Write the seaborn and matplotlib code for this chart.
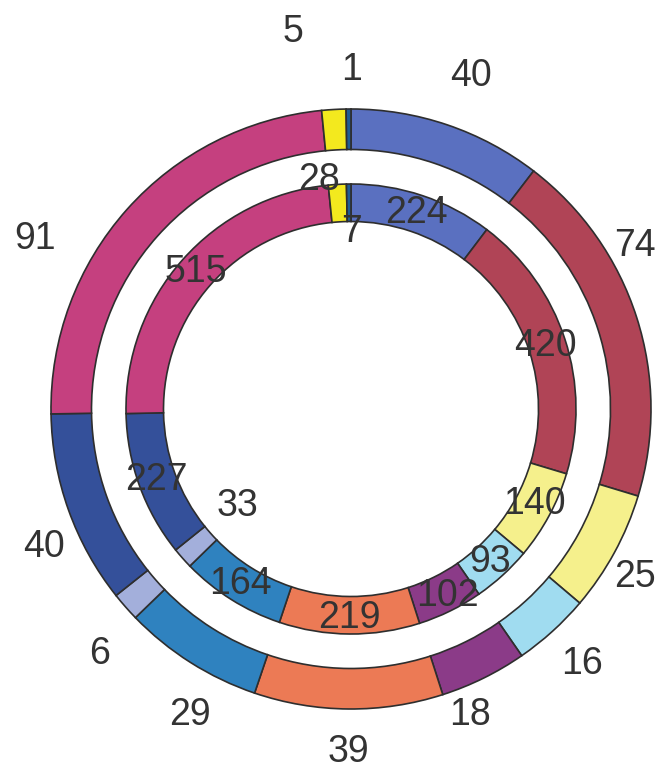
import numpy as np
import matplotlib
matplotlib.use("Agg")
import matplotlib.pyplot as plt
import seaborn as sns

# segments, clockwise from 12 o'clock
outer_values = [40, 74, 25, 16, 18, 39, 29, 6, 40, 91, 5, 1]
inner_values = [224, 420, 140, 93, 102, 219, 164, 33, 227, 515, 28, 7]
colors = ["#5a70c0", "#b04456", "#f5f08c", "#a0dcf0", "#8b3b88", "#ec7a55",
          "#2f82bf", "#a3afdb", "#34509a", "#c5407f", "#f3e91e", "#1f5c94"]

# label placement tweaks (radius, angle nudge in degrees clockwise)
outer_label_r = [1.18, 1.09, 1.10, 1.145, 1.095, 1.143, 1.153, 1.17, 1.12, 1.195, 1.27, 1.13]
outer_label_nudge = [1, -12, 2, 0, 5, 0, -4.5, -3, -4.5, -13.5, -5.5, 0.5]
inner_label_r = [0.69, 0.68, 0.69, 0.69, 0.70, 0.697, 0.69, 0.50, 0.69, 0.69, 0.77, 0.59]
inner_label_nudge = [0, 0, -1, 0, -1, 0, 0, 1, 0, 0, -4.6, 0.6]

sns.set_style("white")
plt.rcParams["font.family"] = ["Liberation Sans", "DejaVu Sans"]

fig = plt.figure(figsize=(6.68, 7.74), dpi=100)
ax = fig.add_axes([0, 0, 1, 1])

edge = dict(edgecolor="#2e2e2e", linewidth=1.2)
outer_wedges, _ = ax.pie(outer_values, radius=1.0, colors=colors, startangle=90,
                         counterclock=False, wedgeprops=dict(width=0.135, **edge))
inner_wedges, _ = ax.pie(inner_values, radius=0.75, colors=colors, startangle=90,
                         counterclock=False, wedgeprops=dict(width=0.125, **edge))


def put_labels(wedges, values, radii, nudges):
    for w, v, r, n in zip(wedges, values, radii, nudges):
        mid = (w.theta1 + w.theta2) / 2.0
        compass = np.deg2rad(90 - mid + n)
        ax.text(r * np.sin(compass), r * np.cos(compass), str(v),
                ha="center", va="center", fontsize=27, color="#333333")


put_labels(outer_wedges, outer_values, outer_label_r, outer_label_nudge)
put_labels(inner_wedges, inner_values, inner_label_r, inner_label_nudge)

ax.set_xlim(-351 / 300, (668 - 351) / 300)
ax.set_ylim(-(774 - 409) / 300, 409 / 300)
ax.set_aspect("equal")
ax.axis("off")

fig.savefig("out.png", dpi=100, facecolor="white")
